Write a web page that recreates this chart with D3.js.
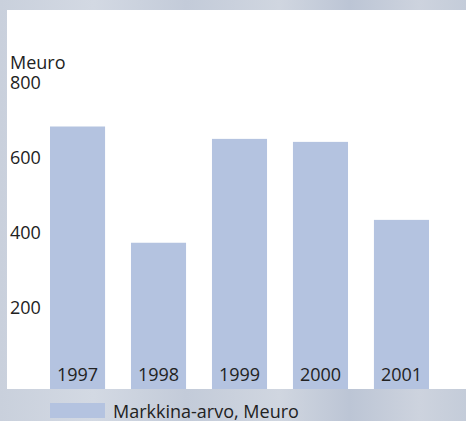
<!DOCTYPE html>
<html>
<head>
<meta charset="utf-8">
<script src="https://cdn.jsdelivr.net/npm/d3@7"></script>
<style>
  body { margin: 0; overflow: hidden; }
  text { font-family: "Open Sans", "Liberation Sans", Arial, sans-serif; fill: #222; }
</style>
</head>
<body>
<div id="chart"></div>
<script>
// data
var years = ["1997", "1998", "1999", "2000", "2001"];
var values = [700, 390, 667, 659, 451];
var yTicks = [200, 400, 600, 800];
var unitLabel = "Meuro";
var legendLabel = "Markkina-arvo, Meuro";

var W = 466, H = 421;
var barColor = "#b4c3e0";

var svg = d3.select("#chart")
  .append("svg")
    .attr("width", W)
    .attr("height", H);

// textured-ish background
var defs = svg.append("defs");
var bg = defs.append("linearGradient").attr("id", "bg")
    .attr("x1", 0).attr("x2", 1).attr("y1", 0).attr("y2", 0);
[["0%", "#c9d0dc"], ["20%", "#d3d9e3"], ["40%", "#c3cbd9"], ["60%", "#d0d6e0"],
 ["75%", "#bcc5d5"], ["90%", "#cdd3de"], ["100%", "#c4ccd9"]].forEach(function(s) {
  bg.append("stop").attr("offset", s[0]).attr("stop-color", s[1]);
});
svg.append("rect")
    .attr("width", W).attr("height", H)
    .attr("fill", "url(#bg)");

// white panel
var panel = {left: 7, top: 10, bottom: 389};
svg.append("rect")
    .attr("x", panel.left).attr("y", panel.top)
    .attr("width", W - panel.left).attr("height", panel.bottom - panel.top)
    .attr("fill", "#ffffff");

var x = d3.scaleBand()
    .domain(years)
    .range([50, 429])
    .paddingInner(0.32)
    .paddingOuter(0);

var y = d3.scaleLinear()
    .domain([0, 800])
    .range([panel.bottom, 89]);

// bars
svg.selectAll("rect.bar")
  .data(years)
  .enter()
  .append("rect")
    .attr("class", "bar")
    .attr("x", function(d) { return x(d); })
    .attr("y", function(d, i) { return y(values[i]); })
    .attr("width", x.bandwidth())
    .attr("height", function(d, i) { return y(0) - y(values[i]); })
    .style("fill", barColor);

// year labels inside bars
svg.selectAll("text.year")
  .data(years)
  .enter()
  .append("text")
    .attr("class", "year")
    .attr("x", function(d) { return x(d) + x.bandwidth() / 2; })
    .attr("y", 381)
    .attr("text-anchor", "middle")
    .style("font-size", "18px")
    .text(function(d) { return d; });

// y labels (baseline sits on value)
svg.selectAll("text.ytick")
  .data(yTicks)
  .enter()
  .append("text")
    .attr("class", "ytick")
    .attr("x", 10)
    .attr("y", function(d) { return y(d); })
    .style("font-size", "18px")
    .text(function(d) { return d; });

svg.append("text")
    .attr("x", 10)
    .attr("y", 69)
    .style("font-size", "18px")
    .text(unitLabel);

// legend
svg.append("rect")
    .attr("x", 50).attr("y", 403)
    .attr("width", 55).attr("height", 15)
    .style("fill", barColor);
svg.append("text")
    .attr("x", 113)
    .attr("y", 418)
    .style("font-size", "18px")
    .text(legendLabel);
</script>
</body>
</html>
